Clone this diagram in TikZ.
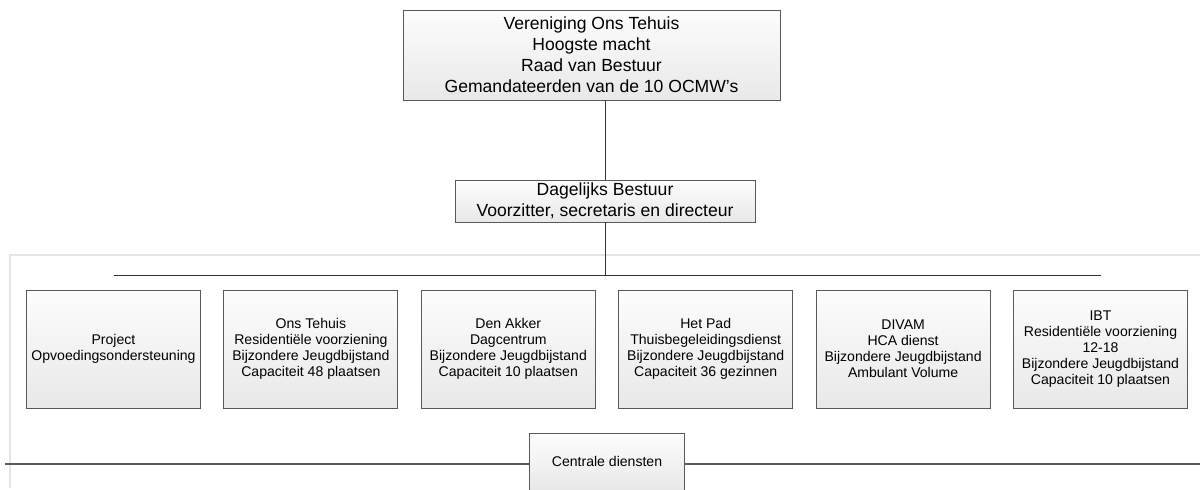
\documentclass[tikz,border=0pt]{standalone}
\usepackage{fontspec}
\setmainfont{Liberation Sans}
\usetikzlibrary{calc}

\tikzset{
  orgbox/.style={draw=black!65, line width=0.6pt, top color=black!1, bottom color=black!9,
    align=center, inner sep=2pt, font=\fontsize{10}{11.4}\selectfont},
  bigbox/.style={orgbox, font=\fontsize{12.5}{15}\selectfont},
  link/.style={draw=black!80, line width=0.6pt},
  baseline/.style={draw=black!65, line width=1.4pt}
}

\begin{document}
\begin{tikzpicture}[x=0.025cm, y=-0.025cm]
    \useasboundingbox (0,0) rectangle (1200,490);
    % light frame round the units
    \draw[black!10, line width=0.8pt] (1200,255) -- (10,255) -- (10,488);

    \node[bigbox, minimum width=377*0.025cm, minimum height=90*0.025cm] (vereniging) at (591.5,55)
        {Vereniging Ons Tehuis\\Hoogste macht\\Raad van Bestuur\\Gemandateerden van de 10 OCMW's};
    \node[bigbox, minimum width=300*0.025cm, minimum height=42*0.025cm] (bestuur) at (605,201)
        {Dagelijks Bestuur\\Voorzitter, secretaris en directeur};

    \draw[link] (vereniging.south -| bestuur.north) -- (bestuur.north);

    % the six units
    \foreach \i/\txt in {1/{Project\\Opvoedingsondersteuning},
                         2/{Ons Tehuis\\Residentiële voorziening\\Bijzondere Jeugdbijstand\\Capaciteit 48 plaatsen},
                         3/{Den Akker\\Dagcentrum\\Bijzondere Jeugdbijstand\\Capaciteit 10 plaatsen},
                         4/{Het Pad\\Thuisbegeleidingsdienst\\Bijzondere Jeugdbijstand\\Capaciteit 36 gezinnen},
                         5/{DIVAM\\HCA dienst\\Bijzondere Jeugdbijstand\\Ambulant Volume},
                         6/{IBT\\Residentiële voorziening\\12-18\\Bijzondere Jeugdbijstand\\Capaciteit 10 plaatsen}}{
        \node[orgbox, minimum width=174*0.025cm, minimum height=118*0.025cm] (unit\i) at (113.5+197.4*\i-197.4,349) {\txt};
    }

    \coordinate (tak) at (bestuur.south |- 0,275);
    \draw[link] (bestuur.south) -- (tak);
    \draw[link] (unit1.north |- tak) -- (unit6.north |- tak);

    % central services on the bottom line
    \node[orgbox, minimum width=155*0.025cm, minimum height=57*0.025cm] (centraal) at (607,461.5) {Centrale diensten};
    \coordinate (lijnlinks) at (5,464);
    \coordinate (lijnrechts) at (1200,464);
    \draw[baseline] (lijnlinks) -- (lijnlinks -| centraal.west);
    \draw[baseline] (lijnrechts -| centraal.east) -- (lijnrechts);
\end{tikzpicture}
\end{document}
